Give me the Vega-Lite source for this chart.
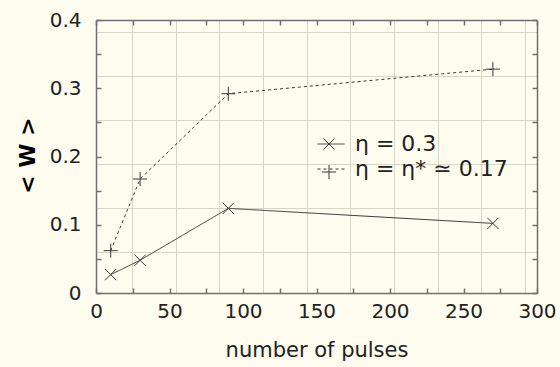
{
  "$schema": "https://vega.github.io/schema/vega-lite/v6.json",
  "autosize": "none",
  "width": 441,
  "height": 273,
  "padding": {"left": 96, "top": 20, "right": 23, "bottom": 74},
  "background": "#fdfcee",
  "config": {
    "view": {"stroke": null},
    "font": "DejaVu Sans"
  },
  "data": {
    "values": [
      {"n": 10, "w": 0.027, "s": "η = 0.3"},
      {"n": 30, "w": 0.048, "s": "η = 0.3"},
      {"n": 90, "w": 0.124, "s": "η = 0.3"},
      {"n": 270, "w": 0.102, "s": "η = 0.3"},
      {"n": 10, "w": 0.062, "s": "η = η* ≃ 0.17"},
      {"n": 30, "w": 0.167, "s": "η = η* ≃ 0.17"},
      {"n": 90, "w": 0.292, "s": "η = η* ≃ 0.17"},
      {"n": 270, "w": 0.328, "s": "η = η* ≃ 0.17"}
    ]
  },
  "resolve": {"axis": {"x": "independent", "y": "independent"}},
  "layer": [
    {
      "mark": {"type": "point", "opacity": 0},
      "encoding": {
        "x": {"field": "n", "type": "quantitative", "scale": {"domain": [0, 300], "nice": false, "zero": false},
          "axis": {"orient": "bottom", "values": [24.5, 54.2, 83.9, 113.6, 143.3, 173, 202.7, 232.4, 262.1, 291.8], "grid": true, "gridColor": "#d6d6c6", "gridWidth": 1, "domain": false, "ticks": false, "labels": false, "title": null}},
        "y": {"field": "w", "type": "quantitative", "scale": {"domain": [0, 0.4], "nice": false, "zero": false},
          "axis": {"orient": "left", "values": [0.0605, 0.1245, 0.1887, 0.2529, 0.3174, 0.3824], "grid": true, "gridColor": "#d6d6c6", "gridWidth": 1, "domain": false, "ticks": false, "labels": false, "title": null}}
      }
    },
    {
      "mark": {"type": "line", "stroke": "#383838", "strokeWidth": 1},
      "encoding": {
        "x": {"field": "n", "type": "quantitative",
          "axis": {"orient": "bottom", "values": [0, 25, 50, 75, 100, 125, 150, 175, 200, 225, 250, 275, 300], "format": "d",
            "labelExpr": "datum.value % 50 === 0 ? datum.label : ''", "labelFlush": false,
            "grid": false, "tickSize": -5, "tickColor": "#707070", "tickWidth": 1.5, "domainColor": "#707070", "domainWidth": 1.5,
            "labelFont": "DejaVu Sans", "labelFontSize": 20, "labelColor": "#222222", "labelPadding": 13,
            "title": "number of pulses", "titleFont": "DejaVu Sans", "titleFontSize": 21, "titleFontWeight": "normal", "titleColor": "#222222", "titlePadding": 18}},
        "y": {"field": "w", "type": "quantitative",
          "axis": {"orient": "left", "values": [0, 0.05, 0.1, 0.15, 0.2, 0.25, 0.3, 0.35, 0.4], "format": "~g",
            "labelExpr": "round(datum.value * 100) % 10 === 0 ? datum.label : ''", "labelFlush": false,
            "grid": false, "tickSize": -5, "tickColor": "#707070", "tickWidth": 1.5, "domainColor": "#707070", "domainWidth": 1.5,
            "labelFont": "DejaVu Sans", "labelFontSize": 20, "labelColor": "#222222", "labelPadding": 20,
            "title": "< W >", "titleFont": "DejaVu Sans", "titleFontSize": 22, "titleFontWeight": "bold", "titleColor": "#000000",
            "titleX": -69, "titleY": 135, "titleAngle": -90, "titleAlign": "center", "titleBaseline": "middle"}},
        "strokeDash": {"field": "s", "type": "nominal",
          "scale": {"range": [[1, 0], [3, 3]]},
          "legend": {
            "orient": "none", "legendX": 221, "legendY": 110, "title": null, "padding": 0,
            "symbolType": "stroke", "symbolSize": 729, "symbolStrokeColor": "#383838", "symbolStrokeWidth": 1,
            "labelFont": "DejaVu Sans", "labelFontSize": 22, "labelColor": "#222222", "labelOffset": 10, "rowPadding": 0
          }}
      }
    },
    {
      "mark": {"type": "point", "filled": false, "stroke": "#383838", "strokeWidth": 1, "size": 196, "opacity": 1},
      "encoding": {
        "x": {"field": "n", "type": "quantitative",
          "axis": {"orient": "top", "values": [0, 25, 50, 75, 100, 125, 150, 175, 200, 225, 250, 275, 300],
            "grid": false, "tickSize": -5, "tickColor": "#707070", "tickWidth": 1.5, "domainColor": "#707070", "domainWidth": 1.5, "labels": false, "title": null}},
        "y": {"field": "w", "type": "quantitative",
          "axis": {"orient": "right", "values": [0, 0.05, 0.1, 0.15, 0.2, 0.25, 0.3, 0.35, 0.4],
            "grid": false, "tickSize": -5, "tickColor": "#707070", "tickWidth": 1.5, "domainColor": "#707070", "domainWidth": 1.5, "labels": false, "title": null}},
        "shape": {"field": "s", "type": "nominal",
          "scale": {"domain": ["η = 0.3", "η = η* ≃ 0.17"], "range": ["M-0.8,-0.8L0.8,0.8M-0.8,0.8L0.8,-0.8", "M0,-1V1M-1,0H1"]},
          "legend": {
            "orient": "none", "legendX": 222, "legendY": 113, "title": null, "padding": 0,
            "symbolSize": 196, "symbolStrokeColor": "#383838", "symbolStrokeWidth": 1, "symbolFillColor": "transparent",
            "labelFont": "DejaVu Sans", "labelFontSize": 22, "labelColor": "transparent", "labelExpr": "''", "labelOffset": 10, "rowPadding": 6
          }}
      }
    }
  ]
}
